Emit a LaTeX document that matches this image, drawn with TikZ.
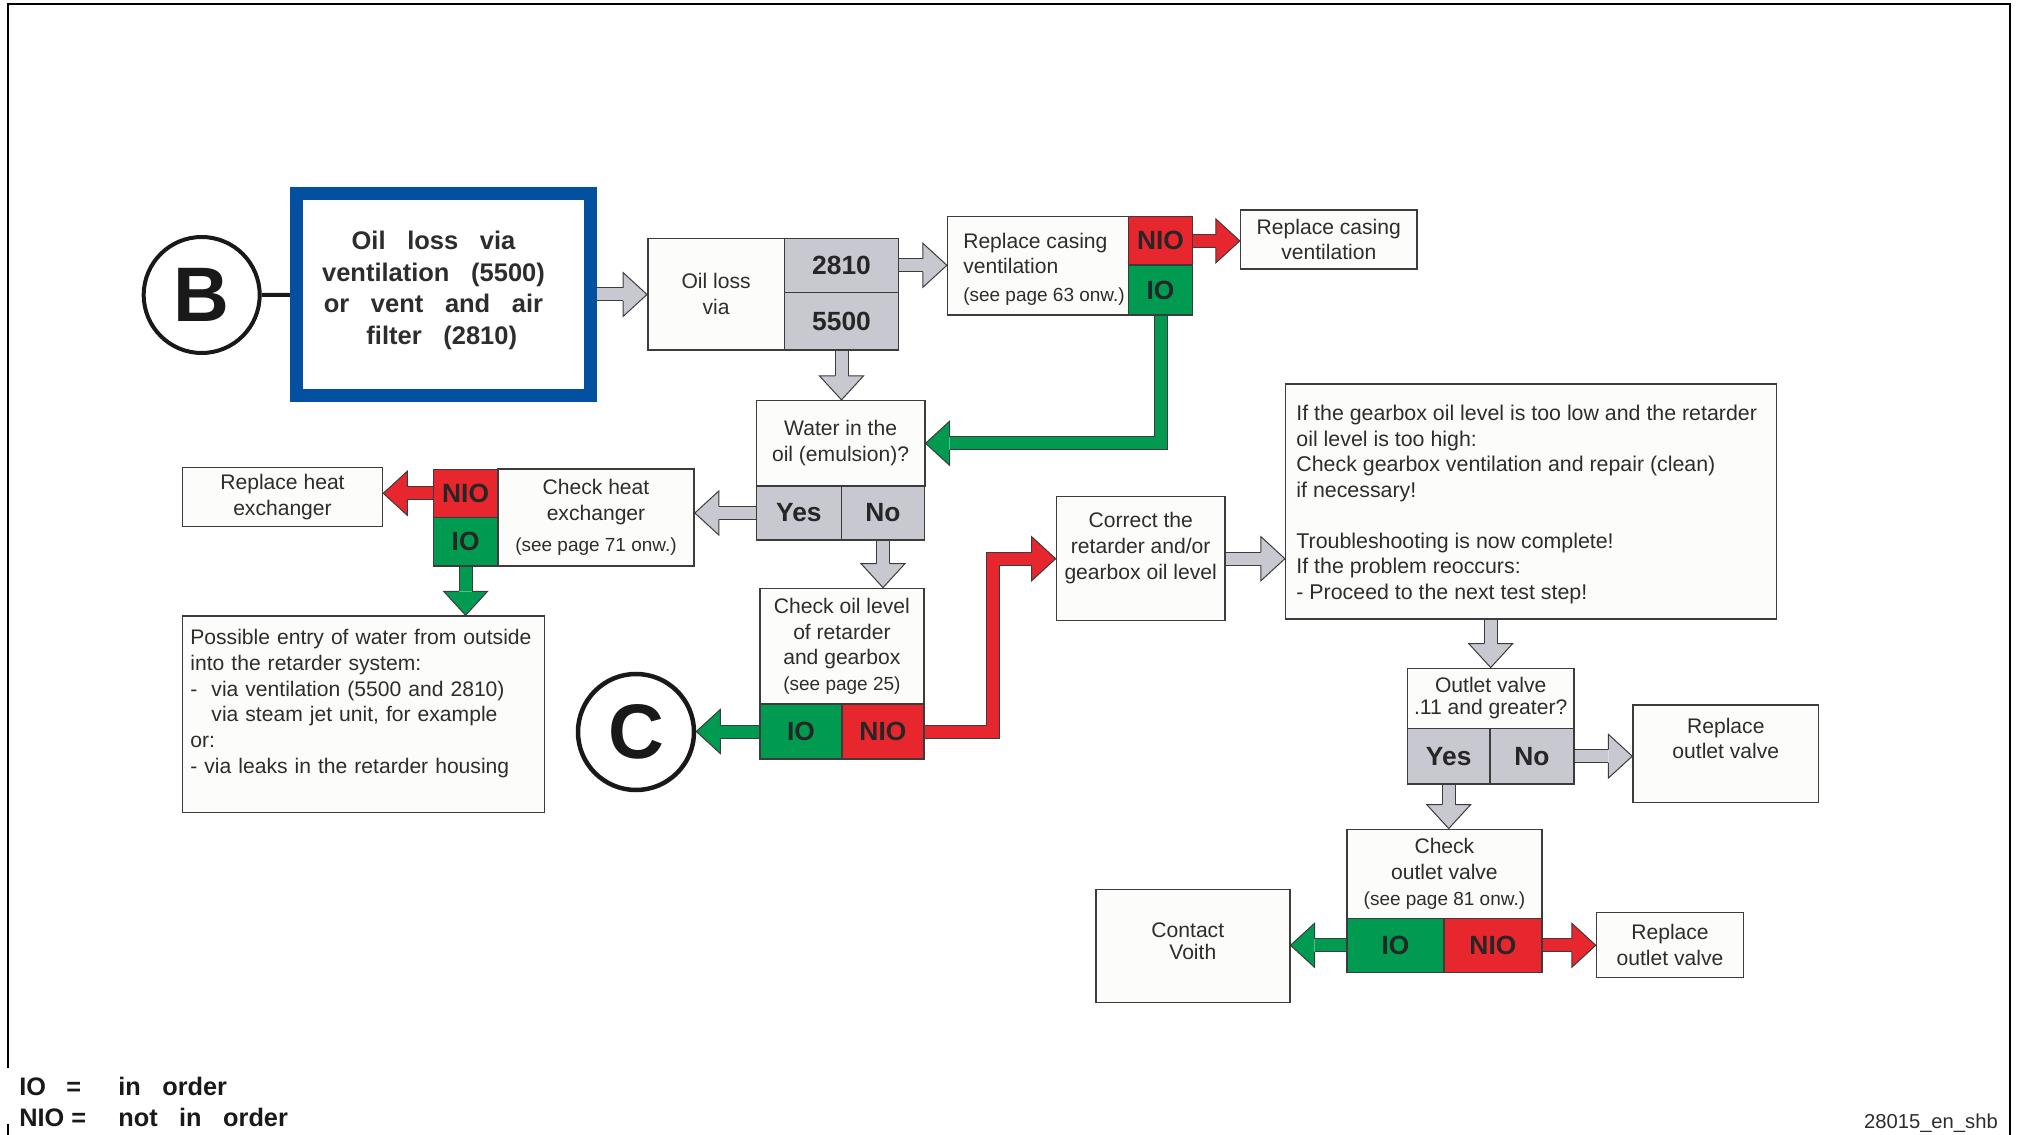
\documentclass[tikz,border=0pt]{standalone}
\usepackage{fontspec}
\setmainfont{Liberation Sans}
\usetikzlibrary{positioning,calc,backgrounds}

\definecolor{edge}{RGB}{60,60,60}
\definecolor{ink}{RGB}{45,45,45}
\definecolor{boxfill}{RGB}{252,252,250}
\definecolor{cellgray}{RGB}{200,200,208}
\definecolor{nioRed}{RGB}{232,38,46}
\definecolor{ioGreen}{RGB}{0,155,80}
\definecolor{voithblue}{RGB}{4,80,160}

\newcommand{\boxfont}{\fontsize{12}{14.6}\selectfont}
\newcommand{\labfont}{\fontsize{15}{18}\selectfont\bfseries}
\newcommand{\seepage}[1]{{\fontsize{10.8}{13}\selectfont(see page #1)}}
\newcommand{\wgap}{\hspace{0.65em}}
\newcommand{\bgap}{\hspace{0.85em}}

% head of a block arrow: colour, base centre, tip
\newcommand{\fathead}[3]{%
  \fill[#1] ($#2!4.4mm!90:#3$) -- #3 -- ($#2!4.4mm!-90:#3$) -- cycle;
  \draw[draw=edge, line width=0.2mm, line join=miter] ($#2!1.3mm!90:#3$) -- ($#2!4.4mm!90:#3$) -- #3 -- ($#2!4.4mm!-90:#3$) -- ($#2!1.3mm!-90:#3$);
}
% straight block arrow: colour, from, to
\newcommand{\fatarrow}[3]{%
  \coordinate (fa) at ($#3!4.8mm!#2$);
  \draw[shaft=#1] #2 -- (fa);
  \fathead{#1}{(fa)}{#3}
}

\begin{document}
\begin{tikzpicture}[x=0.2mm, y=-0.2mm,
  cell/.style={draw=edge, line width=0.3mm, inner sep=0pt},
  box/.style={cell, fill=boxfill, text=ink, font=\boxfont, align=center},
  qcell/.style={cell, fill=cellgray, text=black!85, font=\labfont},
  iocell/.style={cell, fill=ioGreen, text=black!85, font=\labfont},
  niocell/.style={cell, fill=nioRed, text=black!85, font=\labfont},
  letter/.style={circle, draw=black!90, fill=white, line width=0.8mm, minimum size=23.2mm, inner sep=0pt, font=\fontsize{44}{44}\selectfont\bfseries, text=black!90},
  shaft/.style={draw=edge, line width=0.2mm, double=#1, double distance=2.4mm, line join=miter}]
\useasboundingbox (0,0) rectangle (2020,1135);

% start
\node[letter] (circB) at (201.7,295) {B};
\node[draw=voithblue, line width=2.6mm, fill=white, minimum width=58.8mm, minimum height=40.4mm, inner sep=0pt,
      label={[xshift=-2mm, yshift=0.8mm, font=\fontsize{14.5}{18}\selectfont\bfseries, text=ink, align=center]center:{Oil\bgap loss\bgap via\\ventilation\bgap(5500)\\or\bgap vent\bgap and\bgap air\\\hspace*{3.3mm}filter\bgap(2810)}}] (blue) at (443.5,294.5) {};

\node[box, minimum width=27.34mm, minimum height=22.34mm] (loss) at (716.1,294.2) {Oil loss\\via};
\node[qcell, minimum width=22.86mm, minimum height=10.8mm] (c2810) at (841.5,265.3) {2810};
\node[qcell, minimum width=22.86mm, minimum height=11.54mm] (c5500) at (841.5,321.2) {5500};

\node[box, minimum width=36.14mm, minimum height=19.66mm,
      label={[xshift=1.2mm, yshift=-0.65mm, align=left, font=\boxfont, text=ink]center:{Replace casing\\ventilation\\[0.4mm]\seepage{63 onw.}}}] (rc) at (1038,265.8) {};
\node[niocell, minimum width=12.86mm, minimum height=9.66mm] (rcN) at (1160.5,240.9) {NIO};
\node[iocell, minimum width=12.86mm, minimum height=10mm] (rcI) at (1160.5,290) {IO};
\node[box, minimum width=35.3mm, minimum height=11.8mm] (rv) at (1328.8,239.5) {Replace casing\\ventilation};

\node[box, minimum width=33.66mm, minimum height=17.06mm] (water) at (840.6,443.3) {Water in the\\oil (emulsion)?};
\node[qcell, minimum width=16.98mm, minimum height=10.8mm] (wYes) at (798.9,513) {Yes};
\node[qcell, minimum width=16.68mm, minimum height=10.8mm] (wNo) at (883,513) {No};

\node[box, minimum width=39.22mm, minimum height=19.34mm] (che) at (596,517.6) {Check heat\\exchanger\\[1.2mm]\seepage{71 onw.}};
\node[niocell, minimum width=12.94mm, minimum height=9.6mm] (cheN) at (465.6,493.3) {NIO};
\node[iocell, minimum width=12.94mm, minimum height=9.74mm] (cheI) at (465.6,541.7) {IO};
\node[box, minimum width=40mm, minimum height=11.88mm] (rhe) at (282.5,497) {Replace heat\\exchanger};

\node[box, align=left, text width=69.2mm, minimum width=72.36mm, minimum height=39.26mm, font=\fontsize{12}{14.6}\selectfont] (entry) at (363.4,714.2)
  {Possible entry of water from outside\\into the retarder system:\\-\ \ via ventilation (5500 and 2810)\\\phantom{-}\ \ via steam jet unit, for example\\or:\\- via leaks in the retarder housing\\\mbox{}};

\node[box, minimum width=32.76mm, minimum height=23.14mm] (col) at (841.9,646.2) {Check oil level\\of retarder\\and gearbox\\\seepage{25}};
\node[iocell, minimum width=16.4mm, minimum height=11mm] (colI) at (801,731.5) {IO};
\node[niocell, minimum width=16.36mm, minimum height=11mm] (colN) at (882.9,731.5) {NIO};
\node[letter, line width=0.9mm] (circC) at (636,732) {C};

\node[box, minimum width=33.72mm, minimum height=24.8mm] (corr) at (1140.7,558.7) {Correct the\\retarder and/or\\gearbox oil level\\\mbox{}};
\node[box, minimum width=98.2mm, minimum height=47mm,
      label={[xshift=-0.9mm, yshift=-0.6mm, align=left, font=\fontsize{12.15}{14.6}\selectfont, text=ink]center:{If the gearbox oil level is too low and the retarder\\oil level is too high:\\Check gearbox ventilation and repair (clean)\\if necessary!\\[5mm]Troubleshooting is now complete!\\If the problem reoccurs:\\- Proceed to the next test step!}}] (big) at (1531.2,501.5) {};

\node[box, minimum width=33.26mm, minimum height=12mm] (ov) at (1490.7,698.3) {Outlet valve\\[-0.8mm].11 and greater?};
\node[qcell, minimum width=16.48mm, minimum height=11.14mm] (ovY) at (1448.7,756.2) {Yes};
\node[qcell, minimum width=16.78mm, minimum height=11.14mm] (ovN) at (1531.9,756.2) {No};
\node[box, minimum width=37.12mm, minimum height=19.46mm] (rov1) at (1725.8,753.7) {Replace\\outlet valve\\[1mm]\mbox{}};

\node[box, minimum width=38.96mm, minimum height=17.8mm] (chk) at (1444.4,873.8) {Check\\outlet valve\\\seepage{81 onw.}};
\node[iocell, minimum width=19.38mm, minimum height=10.8mm] (chkI) at (1395.5,945.3) {IO};
\node[niocell, minimum width=19.58mm, minimum height=10.8mm] (chkN) at (1492.9,945.3) {NIO};
\node[box, minimum width=38.78mm, minimum height=22.68mm] (voith) at (1192.8,946) {Contact\hspace*{2mm}\\[-0.8mm]Voith\hspace*{2mm}\\[-3.1mm]\mbox{}};
\node[box, minimum width=29.38mm, minimum height=13mm] (rov2) at (1670,945.2) {Replace\\outlet valve};

% legend and drawing number
\node[anchor=west, inner sep=1mm, align=left, font=\fontsize{14.4}{18}\selectfont\bfseries, text=black!90] (legend) at (14,1102)
  {\makebox[19.8mm][l]{IO\hspace{0.8em}=}in\bgap order\\\makebox[19.8mm][l]{NIO =}not\bgap in\bgap order};
\node[anchor=east, font=\fontsize{11.5}{13}\selectfont, text=ink] (code) at (2004,1123) {28015\_en\_shb};

\begin{scope}[on background layer]
\draw[line width=0.4mm] (8,1068) -- (8,4) -- (2010,4) -- (2010,1135);
\draw[line width=0.4mm] (8,1124) -- (8,1135);
\draw[line width=0.8mm, draw=black!90] (circB) -- (blue);

\fatarrow{cellgray}{(blue.east)}{(blue.east -| loss.west)}
\fatarrow{cellgray}{(c2810.east)}{(c2810.east -| rc.west)}
\fatarrow{nioRed}{(rcN.east)}{(rcN.east -| rv.west)}
\fatarrow{cellgray}{(c5500.south)}{(c5500.south |- water.north)}
\fatarrow{cellgray}{(wYes.west)}{(wYes.west -| che.east)}
\fatarrow{nioRed}{(cheN.west)}{(cheN.west -| rhe.east)}
\fatarrow{ioGreen}{(cheI.south)}{(cheI.south |- entry.north)}
\fatarrow{cellgray}{(wNo.south)}{(wNo.south |- col.north)}
\fatarrow{ioGreen}{(colI.west)}{(colI.west -| circC.east)}
\fatarrow{cellgray}{(corr.east)}{(corr.east -| big.west)}
\fatarrow{cellgray}{(ov.north |- big.south)}{(ov.north)}
\fatarrow{cellgray}{(ovN.east)}{(ovN.east -| rov1.west)}
\fatarrow{cellgray}{(ovY.south)}{(ovY.south |- chk.north)}
\fatarrow{ioGreen}{(chkI.west)}{(chkI.west -| voith.east)}
\fatarrow{nioRed}{(chkN.east)}{(chkN.east -| rov2.west)}

% bent connectors
\coordinate (hb1) at ($(water.east)+(4.8mm,0)$);
\draw[shaft=ioGreen] (rcI.south) |- (hb1);
\fathead{ioGreen}{(hb1)}{(water.east)}
\coordinate (hb2) at ($(corr.west)+(-4.8mm,0)$);
\draw[shaft=nioRed] (colN.east) -- ++(13.7mm,0) |- (hb2);
\fathead{nioRed}{(hb2)}{(corr.west)}
\end{scope}
\end{tikzpicture}
\end{document}
